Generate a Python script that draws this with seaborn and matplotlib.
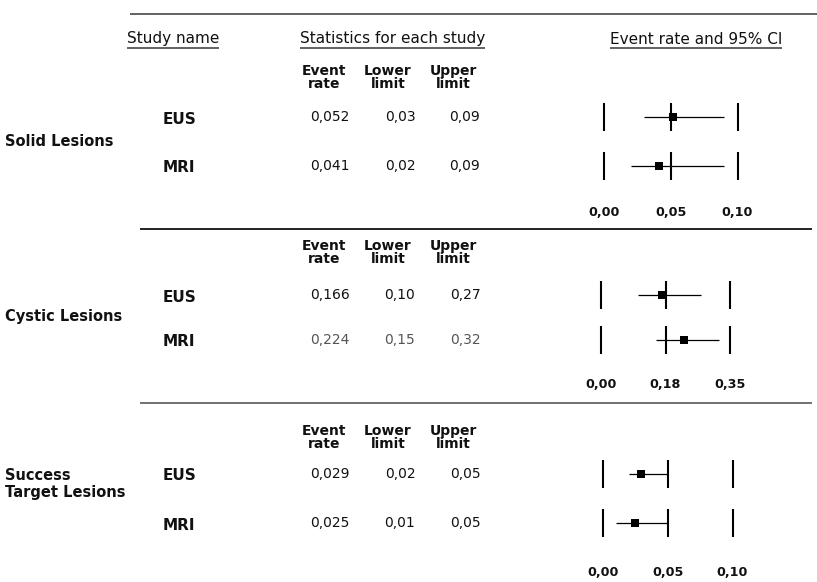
import matplotlib
matplotlib.use("Agg")
import matplotlib.pyplot as plt
import seaborn as sns
import pandas as pd

sns.set_theme(style="white")
plt.rcParams["font.family"] = ["DejaVu Sans"]

# ---- data -------------------------------------------------------------
groups = ["Solid Lesions", "Cystic Lesions", "Success\nTarget Lesions"]
studies = ["EUS", "MRI"]
event_rate = [[0.052, 0.041], [0.166, 0.224], [0.029, 0.025]]
lower_limit = [[0.03, 0.02], [0.10, 0.15], [0.02, 0.01]]
upper_limit = [[0.09, 0.09], [0.27, 0.32], [0.05, 0.05]]
axis_ticks = [[0.0, 0.05, 0.10], [0.0, 0.175, 0.35], [0.0, 0.05, 0.10]]
axis_tick_labels = [["0,00", "0,05", "0,10"],
                    ["0,00", "0,18", "0,35"],
                    ["0,00", "0,05", "0,10"]]
column_titles = ["Study name", "Statistics for each study", "Event rate and 95% CI"]
stat_headers = [("Event", "rate"), ("Lower", "limit"), ("Upper", "limit")]

# ---- layout (pixel units, y grows downward) ---------------------------
W, H = 817, 582
panel_rows_y = [[117, 166], [295, 340], [474, 523]]
panel_header_y = [(71, 84), (246, 259), (431, 444)]
panel_group_y = [141, 316, 484]
panel_tick_label_y = [212, 385, 573]
panel_axis_px = [(604, 737.5), (601, 730), (603, 732.5)]  # pixel of 0 and of axis max
separators = [(14, 130, 817, "#555555"), (229, 140, 812, "#111111"), (403, 140, 812, "#666666")]
stat_cols_x = [330, 400, 465]
header_cols_x = [324, 388, 453]
row_label_x = 163
group_label_x = 5
tick_half = 14

fig = plt.figure(figsize=(W / 100, H / 100), dpi=100)
bg = fig.add_axes([0, 0, 1, 1])
bg.set_xlim(0, W)
bg.set_ylim(H, 0)
bg.axis("off")

ink = "#111111"

# horizontal rules
for y, x0, x1, c in separators:
    bg.hlines(y, x0, x1, color=c, lw=1.3)

# column titles
title_x = [127, 300, 610]
title_texts = []
for tx, t in zip(title_x, column_titles):
    title_texts.append(bg.text(tx, 39, t, ha="left", va="center", fontsize=11, color=ink))

for p in range(len(groups)):
    ys = panel_rows_y[p]
    # statistics header
    h1, h2 = panel_header_y[p]
    for cx, (a, b) in zip(header_cols_x, stat_headers):
        bg.text(cx, h1, a, ha="center", va="center", fontsize=10, fontweight="bold", color=ink)
        bg.text(cx, h2, b, ha="center", va="center", fontsize=10, fontweight="bold", color=ink)
    # group label
    bg.text(group_label_x, panel_group_y[p], groups[p], ha="left", va="center",
            fontsize=10.5, fontweight="bold", color=ink, linespacing=1.25)
    # rows: study name and statistics
    for r, study in enumerate(studies):
        y = ys[r]
        bg.text(row_label_x, y + 2, study, ha="left", va="center", fontsize=11,
                fontweight="bold", color=ink)
        col = "#555555" if (p == 1 and r == 1) else ink
        vals = [f"{event_rate[p][r]:.3f}", f"{lower_limit[p][r]:.2f}", f"{upper_limit[p][r]:.2f}"]
        for cx, v in zip(stat_cols_x, vals):
            bg.text(cx, y, v.replace(".", ","), ha="center", va="center", fontsize=10, color=col)

    # forest panel on its own value scale
    x0, x1 = panel_axis_px[p]
    xmax = axis_ticks[p][-1]
    ax = fig.add_axes([x0 / W, 0, (x1 - x0) / W, 1])
    ax.patch.set_alpha(0)
    df = pd.DataFrame({
        "study": studies,
        "rate": event_rate[p],
        "lo": lower_limit[p],
        "hi": upper_limit[p],
        "y": ys,
    })
    for t in axis_ticks[p]:
        for y in ys:
            ax.vlines(t, y - tick_half, y + tick_half, color="black", lw=1.5, clip_on=False)
    ax.hlines(df["y"], df["lo"], df["hi"], color="black", lw=0.9, clip_on=False)
    sns.scatterplot(data=df, x="rate", y="y", marker="s", s=34, color="black",
                    edgecolor="black", linewidth=0, legend=False, ax=ax, zorder=3,
                    clip_on=False)
    for t, lab in zip(axis_ticks[p], axis_tick_labels[p]):
        ax.text(t, panel_tick_label_y[p], lab, ha="center", va="center", fontsize=9.2,
                fontweight="bold", color=ink)
    ax.set_xlim(0, xmax)
    ax.set_ylim(H, 0)
    ax.axis("off")

# underline the column titles
fig.canvas.draw()
inv = bg.transData.inverted()
for t in title_texts:
    bb = t.get_window_extent()
    (lx, _), (rx, _) = inv.transform([(bb.x0, bb.y0), (bb.x1, bb.y1)])
    bg.hlines(48, lx, rx, color="#555555", lw=1.3)

fig.savefig("out.png", dpi=100)
